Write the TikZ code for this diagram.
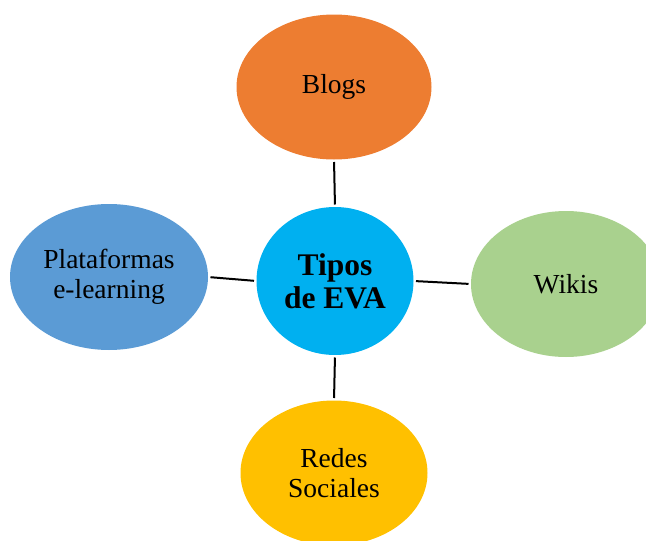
\documentclass[tikz,border=0pt]{standalone}
\usepackage{fontspec}
\setmainfont{Liberation Serif}
\usetikzlibrary{shapes.geometric}
\definecolor{cblog}{HTML}{ED7D31}
\definecolor{ccen}{HTML}{00B0F0}
\definecolor{cwiki}{HTML}{A9D18E}
\definecolor{credes}{HTML}{FFC000}
\definecolor{cplat}{HTML}{5B9BD5}
\tikzset{
  oval/.style={ellipse, inner sep=0pt, outer sep=0pt, align=center,
    font=\fontsize{27.5}{30}\selectfont},
  link/.style={line width=2pt, black, shorten <=2.5pt, shorten >=2.5pt}
}
\begin{document}
\begin{tikzpicture}[x=1pt,y=-1pt]
\useasboundingbox (0,0) rectangle (646,541);
\clip (0,0) rectangle (646,541);
\node[oval, fill=ccen, minimum width=157pt, minimum height=148pt,
  font=\fontsize{31.5}{33}\selectfont\bfseries] (c) at (335,281) {Tipos\\de EVA};
\node[oval, fill=cblog, minimum width=195pt, minimum height=145pt] (b) at (334,87) {Blogs};
\node[oval, fill=cplat, minimum width=198pt, minimum height=146pt] (p) at (109,277) {Plataformas\\e-learning};
\node[oval, fill=cwiki, minimum width=190pt, minimum height=146pt] (w) at (566,284) {Wikis};
\node[oval, fill=credes, minimum width=187pt, minimum height=145pt] (r) at (334,473) {Redes\\Sociales};
\draw[link] (b.south) -- (c.north);
\draw[link] (p.east) -- (c.west);
\draw[link] (c.east) -- (w.west);
\draw[link] (c.south) -- (r.north);
\end{tikzpicture}
\end{document}
